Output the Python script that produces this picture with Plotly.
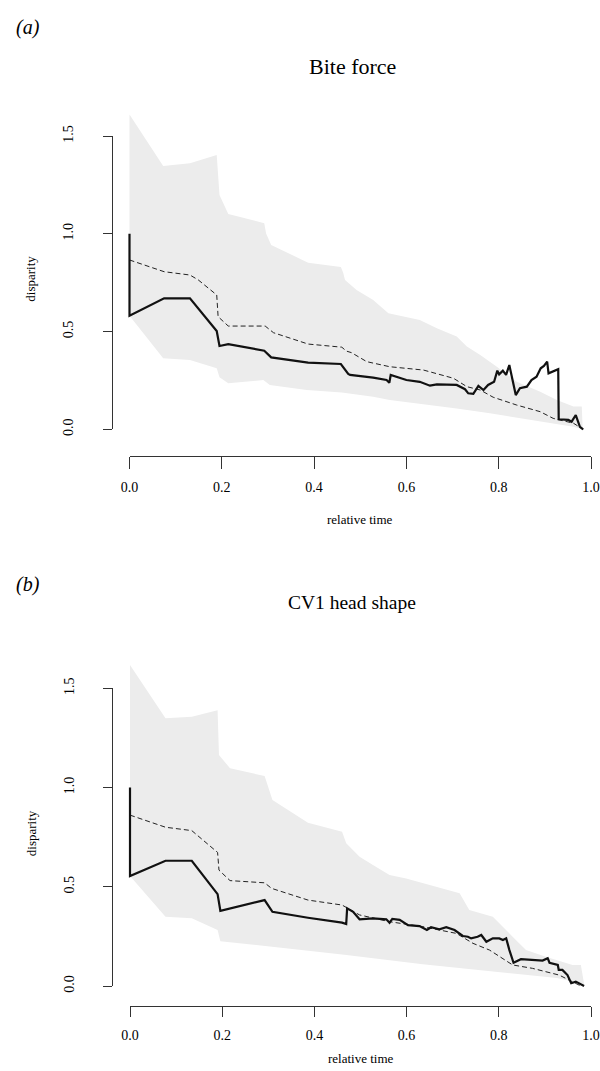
import plotly.graph_objects as go

# ---------------- data: (a) Bite force ----------------
bite_obs_x = [0.0, 0.0, 0.075, 0.131, 0.189, 0.195, 0.214, 0.292, 0.307, 0.387, 0.458, 0.474, 0.478,
              0.528, 0.557, 0.563, 0.566, 0.600, 0.629, 0.651, 0.666, 0.709, 0.727, 0.734, 0.745,
              0.756, 0.767, 0.777, 0.790, 0.797, 0.801, 0.809, 0.816, 0.823, 0.830, 0.837, 0.846,
              0.861, 0.871, 0.882, 0.891, 0.898, 0.905, 0.908, 0.929, 0.930, 0.951, 0.958, 0.967,
              0.976, 0.983]
bite_obs_y = [1.0, 0.581, 0.670, 0.670, 0.503, 0.426, 0.435, 0.402, 0.368, 0.341, 0.334, 0.283, 0.278,
              0.264, 0.252, 0.238, 0.278, 0.252, 0.243, 0.223, 0.230, 0.227, 0.205, 0.184, 0.181,
              0.222, 0.201, 0.227, 0.243, 0.300, 0.281, 0.300, 0.278, 0.329, 0.252, 0.175, 0.210,
              0.218, 0.252, 0.269, 0.312, 0.324, 0.346, 0.286, 0.307, 0.051, 0.048, 0.039, 0.073,
              0.013, 0.0]
bite_null_x = [0.0, 0.075, 0.131, 0.149, 0.189, 0.192, 0.214, 0.294, 0.312, 0.387, 0.460, 0.470,
               0.481, 0.514, 0.564, 0.637, 0.702, 0.731, 0.760, 0.788, 0.839, 0.890, 0.918, 0.962, 0.983]
bite_null_y = [0.866, 0.806, 0.789, 0.764, 0.687, 0.576, 0.528, 0.528, 0.494, 0.436, 0.420, 0.400,
               0.392, 0.346, 0.320, 0.303, 0.261, 0.218, 0.201, 0.164, 0.124, 0.090, 0.056, 0.031, 0.0]
bite_hi_x = [0.0, 0.073, 0.131, 0.189, 0.195, 0.214, 0.292, 0.296, 0.307, 0.387, 0.458, 0.463, 0.467,
             0.492, 0.528, 0.561, 0.629, 0.666, 0.709, 0.731, 0.760, 0.796, 0.839, 0.890, 0.926,
             0.962, 0.980, 0.982]
bite_hi_y = [1.61, 1.347, 1.361, 1.403, 1.198, 1.101, 1.054, 1.002, 0.943, 0.852, 0.830, 0.800, 0.764,
             0.713, 0.661, 0.593, 0.559, 0.517, 0.474, 0.423, 0.380, 0.320, 0.243, 0.192, 0.150,
             0.116, 0.116, 0.013]
bite_lo_x = [0.0, 0.073, 0.131, 0.189, 0.195, 0.214, 0.290, 0.304, 0.384, 0.460, 0.528, 0.564, 0.637,
             0.709, 0.781, 0.853, 0.926, 0.962, 0.982]
bite_lo_y = [0.581, 0.363, 0.354, 0.312, 0.266, 0.235, 0.252, 0.227, 0.201, 0.188, 0.167, 0.150, 0.129,
             0.107, 0.082, 0.056, 0.027, 0.013, 0.0]

# ---------------- data: (b) CV1 head shape ----------------
cv1_obs_x = [0.0, 0.0, 0.077, 0.134, 0.190, 0.196, 0.292, 0.309, 0.386, 0.460, 0.469, 0.471, 0.484,
             0.498, 0.527, 0.556, 0.563, 0.569, 0.585, 0.603, 0.628, 0.644, 0.653, 0.671, 0.686,
             0.704, 0.722, 0.733, 0.740, 0.754, 0.762, 0.773, 0.787, 0.801, 0.809, 0.816, 0.823,
             0.832, 0.848, 0.873, 0.895, 0.906, 0.910, 0.928, 0.930, 0.938, 0.949, 0.957, 0.967, 0.985]
cv1_obs_y = [1.0, 0.554, 0.631, 0.631, 0.463, 0.379, 0.433, 0.374, 0.344, 0.319, 0.312, 0.391, 0.374,
             0.336, 0.341, 0.336, 0.319, 0.338, 0.333, 0.307, 0.302, 0.282, 0.296, 0.286, 0.296,
             0.282, 0.252, 0.248, 0.240, 0.248, 0.257, 0.223, 0.240, 0.240, 0.232, 0.240, 0.181,
             0.117, 0.135, 0.131, 0.128, 0.140, 0.117, 0.106, 0.081, 0.081, 0.055, 0.014, 0.022, 0.0]
cv1_null_x = [0.0, 0.077, 0.134, 0.190, 0.193, 0.217, 0.292, 0.307, 0.386, 0.460, 0.498, 0.563, 0.635,
              0.708, 0.744, 0.780, 0.830, 0.873, 0.931, 0.978]
cv1_null_y = [0.861, 0.800, 0.783, 0.673, 0.584, 0.531, 0.520, 0.492, 0.433, 0.408, 0.358, 0.324, 0.299,
              0.265, 0.215, 0.181, 0.106, 0.089, 0.055, 0.0]
cv1_hi_x = [0.0, 0.077, 0.134, 0.190, 0.193, 0.217, 0.292, 0.309, 0.386, 0.460, 0.469, 0.498, 0.527,
            0.563, 0.599, 0.664, 0.715, 0.736, 0.787, 0.830, 0.859, 0.902, 0.960, 0.978, 0.983]
cv1_hi_y = [1.617, 1.349, 1.357, 1.390, 1.164, 1.097, 1.058, 0.937, 0.823, 0.777, 0.719, 0.651, 0.610,
            0.559, 0.542, 0.500, 0.467, 0.383, 0.349, 0.248, 0.181, 0.148, 0.106, 0.106, 0.020]
cv1_lo_x = [0.0, 0.077, 0.134, 0.190, 0.196, 0.300, 0.309, 0.386, 0.465, 0.635, 0.801, 0.926, 0.985]
cv1_lo_y = [0.554, 0.349, 0.341, 0.282, 0.226, 0.203, 0.200, 0.178, 0.158, 0.110, 0.070, 0.040, 0.010]

x_ticks = [0.0, 0.2, 0.4, 0.6, 0.8, 1.0]
x_tick_text = ["0.0", "0.2", "0.4", "0.6", "0.8", "1.0"]
y_ticks = [0.0, 0.5, 1.0, 1.5]
y_tick_text = ["0.0", "0.5", "1.0", "1.5"]

W, H = 600, 1071
FONT = "Liberation Serif, Times New Roman, serif"
AXC = "#333333"
BAND = "#ECECEC"

# pixel geometry of each panel (layout only)
panels = [
    dict(x0=129.5, x1=591.0, y0=429.3, y15=136.0, left=112.0, bottom=456.0, top=95.0, ticklen=12,
         title="Bite force", title_size=22, title_y=66, tag="(a)", tag_y=27, xlab_y=519,
         obs=(bite_obs_x, bite_obs_y), null=(bite_null_x, bite_null_y),
         hi=(bite_hi_x, bite_hi_y), lo=(bite_lo_x, bite_lo_y)),
    dict(x0=130.0, x1=591.0, y0=986.0, y15=688.3, left=112.3, bottom=1006.0, top=640.0, ticklen=10,
         title="CV1 head shape", title_size=19.5, title_y=602, tag="(b)", tag_y=584, xlab_y=1058,
         obs=(cv1_obs_x, cv1_obs_y), null=(cv1_null_x, cv1_null_y),
         hi=(cv1_hi_x, cv1_hi_y), lo=(cv1_lo_x, cv1_lo_y)),
]

fig = go.Figure()
layout = dict(template="none", width=W, height=H, margin=dict(l=0, r=0, t=0, b=0, pad=0),
              paper_bgcolor="white", plot_bgcolor="rgba(0,0,0,0)", showlegend=False, annotations=[])

def px_x(p):
    return p / W

def px_y(p):
    return 1 - p / H

for i, P in enumerate(panels):
    dx = 2 * i + 1
    ux = 2 * i + 2
    xs = "" if dx == 1 else str(dx)
    xu = str(ux)
    sx = (P["x1"] - P["x0"])  # px per unit x
    sy = (P["y0"] - P["y15"]) / 1.5  # px per unit y
    xr = [(P["left"] - P["x0"]) / sx, (P["x1"] - P["x0"]) / sx]
    yr = [(P["y0"] - P["bottom"]) / sy, (P["y0"] - P["top"]) / sy]

    # data axes (hidden)
    layout["xaxis" + xs] = dict(domain=[px_x(P["left"]), px_x(P["x1"])], range=xr, visible=False,
                                anchor="y" + xs, fixedrange=True, automargin=False)
    layout["yaxis" + xs] = dict(domain=[px_y(P["bottom"]), px_y(P["top"])], range=yr, visible=False,
                                anchor="x" + xs, fixedrange=True, automargin=False)
    # R-style detached tick axes
    layout["xaxis" + xu] = dict(domain=[px_x(P["x0"]), px_x(P["x1"])], range=[0, 1], anchor="free",
                                position=px_y(P["bottom"]), showline=True, linecolor=AXC, linewidth=1,
                                ticks="outside", ticklen=P["ticklen"], tickwidth=1, tickcolor=AXC,
                                tickvals=x_ticks, ticktext=x_tick_text, showgrid=False, zeroline=False,
                                tickfont=dict(family=FONT, size=14, color="black"),
                                ticklabelstandoff=6, fixedrange=True, automargin=False)
    layout["yaxis" + xu] = dict(domain=[px_y(P["y0"]), px_y(P["y15"])], range=[0, 1.5], anchor="free",
                                position=px_x(P["left"]), showline=True, linecolor=AXC, linewidth=1,
                                ticks="outside", ticklen=9, tickwidth=1, tickcolor=AXC,
                                tickvals=y_ticks, ticktext=y_tick_text, tickangle=-90,
                                showgrid=False, zeroline=False,
                                tickfont=dict(family=FONT, size=14, color="black"),
                                ticklabelstandoff=24, fixedrange=True, automargin=False)

    hx, hy = P["hi"]
    lx, ly = P["lo"]
    fig.add_trace(go.Scatter(x=list(hx) + list(lx)[::-1], y=list(hy) + list(ly)[::-1], fill="toself",
                             fillcolor=BAND, line=dict(width=0), mode="lines", hoverinfo="skip",
                             xaxis="x" + xs, yaxis="y" + xs))
    nx, ny = P["null"]
    fig.add_trace(go.Scatter(x=nx, y=ny, mode="lines", line=dict(color="#222222", width=1, dash="5px,3px"),
                             xaxis="x" + xs, yaxis="y" + xs))
    ox, oy = P["obs"]
    fig.add_trace(go.Scatter(x=ox, y=oy, mode="lines", line=dict(color="#111111", width=2.2),
                             xaxis="x" + xs, yaxis="y" + xs))
    # empty trace so tick axes are drawn
    fig.add_trace(go.Scatter(x=[None], y=[None], mode="lines", xaxis="x" + xu, yaxis="y" + xu,
                             hoverinfo="skip"))

    layout["annotations"] += [
        dict(text=P["title"], x=px_x(352), y=px_y(P["title_y"]), xref="paper", yref="paper",
             showarrow=False, font=dict(family=FONT, size=P["title_size"], color="black"),
             xanchor="center", yanchor="middle"),
        dict(text="<i>" + P["tag"] + "</i>", x=px_x(28), y=px_y(P["tag_y"]), xref="paper", yref="paper",
             showarrow=False, font=dict(family=FONT, size=20, color="black"), xanchor="center", yanchor="middle"),
        dict(text="relative time", x=px_x((P["x0"] + P["x1"]) / 2), y=px_y(P["xlab_y"]), xref="paper",
             yref="paper", showarrow=False, font=dict(family=FONT, size=13, color="black"),
             xanchor="center", yanchor="middle"),
        dict(text="disparity", x=px_x(31), y=px_y((P["y0"] + P["y15"]) / 2 - 4), xref="paper", yref="paper",
             showarrow=False, textangle=-90, font=dict(family=FONT, size=13, color="black"),
             xanchor="center", yanchor="middle"),
    ]

fig.update_layout(**layout)
fig.write_html("out.html", post_script="document.body.style.margin='0';document.body.style.overflow='hidden';")
